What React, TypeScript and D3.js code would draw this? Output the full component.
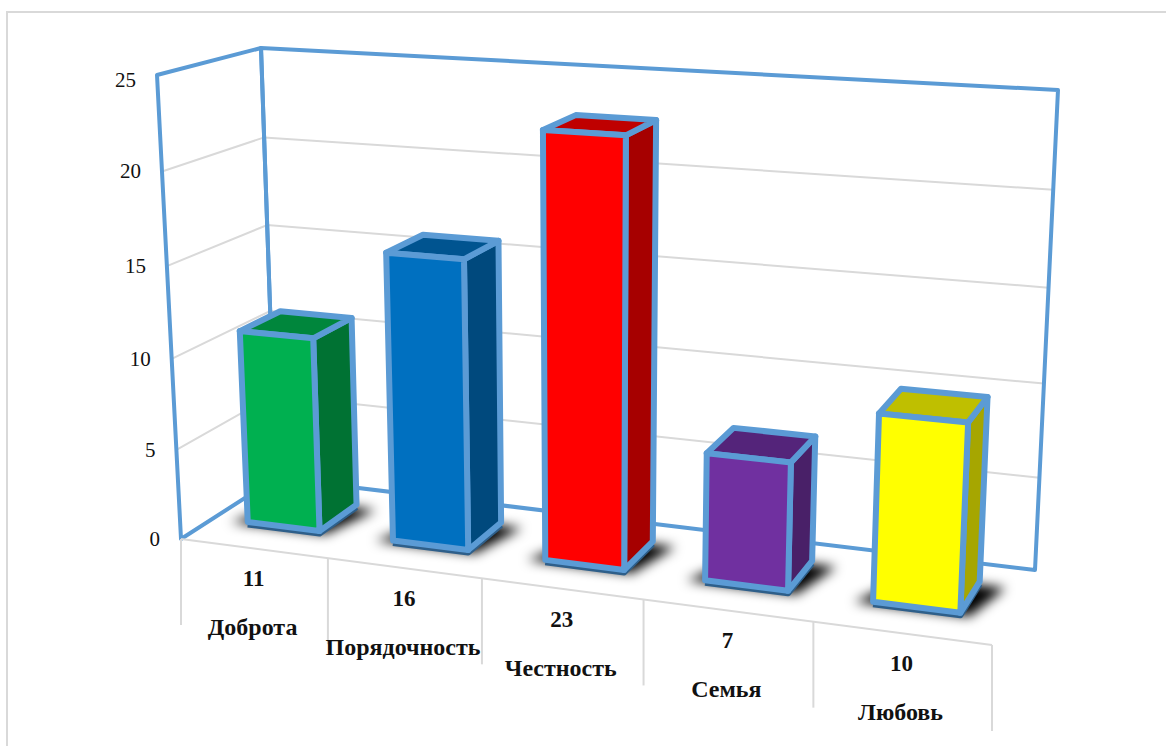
import React from 'react';
import * as d3 from 'd3';

const categories = ['Доброта', 'Порядочность', 'Честность', 'Семья', 'Любовь'];
const values = [11, 16, 23, 7, 10];
const faceColors = ['#00B050', '#0070C0', '#FF0000', '#7030A0', '#FFFF00'];
const sideColors = ['#007233', '#00497D', '#A60000', '#492068', '#A6A600'];
const topColors = ['#00863C', '#005490', '#BF0000', '#54247A', '#BFBF00'];
const valueTicks = [0, 5, 10, 15, 20, 25];

type Pt = [number, number];

// corners of the 3d box on screen
const floorFL: Pt = [181, 539];
const floorFR: Pt = [992, 645];
const floorBR: Pt = [1035, 570];
const floorBL: Pt = [276, 478];
const topFL: Pt = [157, 75];
const topFR: Pt = [1015, 129];
const topBR: Pt = [1058, 90];
const topBL: Pt = [261, 48];

const WALL = '#5B9BD5';
const GRID = '#D9D9D9';
const SERIF = '"Liberation Serif", "Times New Roman", serif';

const lerp = (a: Pt, b: Pt, f: number): Pt => [a[0] + (b[0] - a[0]) * f, a[1] + (b[1] - a[1]) * f];

const slot = d3.scaleBand<string>().domain(categories).range([-0.0025, 0.9975]).paddingInner(0.5).paddingOuter(0.25);
const slotEdge = d3.scaleLinear().domain([0, categories.length]).range([0, 1]);
const valueFrac = d3.scaleLinear().domain([0, 25]).range([0, 1]);

// perspective squeeze along x and along the value axis
const warpX = (t: number) => t / (t + (1 - t) * 1.13);
const warpV = (t: number) => t / (t + (1 - t) * 1.05);

// t: across the floor, v: chart value, w: depth (0 front, 1 back)
function project(t: number, v: number, w: number): Pt {
  const u = warpX(t);
  const f = warpV(valueFrac(v));
  const low = lerp(lerp(floorFL, floorFR, u), lerp(floorBL, floorBR, u), w);
  const high = lerp(lerp(topFL, topFR, u), lerp(topBL, topBR, u), w);
  return lerp(low, high, f);
}

const line = d3.line<Pt>();
const poly = (pts: Pt[]) => line(pts) + 'Z';

const BAR_W0 = 0.35;
const BAR_W1 = 0.77;
const TOP_INSET = 0.2; // the bar outline is drawn a bit below the real top

export default function App() {
  return (
    <svg width={1166} height={746} style={{ position: 'absolute', left: 0, top: 0, background: '#fff' }}>
      <defs>
        <filter id="soft" x="-50%" y="-100%" width="200%" height="300%">
          <feGaussianBlur stdDeviation="6" />
        </filter>
      </defs>

      {/* outer frame */}
      <path d="M7,746V12H1166" fill="none" stroke={GRID} strokeWidth={2} />

      {/* gridlines on the walls */}
      {valueTicks.slice(1, -1).map(v => (
        <path
          key={v}
          d={line([project(0, v, 0), project(0, v, 1), project(1, v, 1)]) as string}
          fill="none"
          stroke={GRID}
          strokeWidth={2}
        />
      ))}

      {/* walls */}
      <path d={poly([floorFL, topFL, topBL, floorBL])} fill="none" stroke={WALL} strokeWidth={4} strokeLinejoin="round" />
      <path d={poly([floorBL, topBL, topBR, floorBR])} fill="none" stroke={WALL} strokeWidth={4} strokeLinejoin="round" />

      {/* category axis */}
      <path d={line([floorFL, floorFR]) as string} stroke={GRID} strokeWidth={2} fill="none" />
      {d3.range(categories.length + 1).map(i => {
        const p = project(slotEdge(i), 0, 0);
        return <line key={i} x1={p[0]} y1={p[1]} x2={p[0]} y2={p[1] + 86} stroke={GRID} strokeWidth={2} />;
      })}

      {/* value axis labels */}
      {valueTicks.map(v => {
        const p = project(0, v, 0);
        return (
          <text
            key={v}
            x={p[0] - 21}
            y={p[1] + (v === 25 ? 12 : 7)}
            textAnchor="end"
            fontFamily={SERIF}
            fontSize={21}
            fill="#111"
          >
            {v}
          </text>
        );
      })}

      {/* bars */}
      {categories.map((c, i) => {
        const t0 = slot(c) as number;
        const t1 = t0 + slot.bandwidth();
        const v = values[i] - TOP_INSET;
        const fbl = project(t0, 0, BAR_W0);
        const fbr = project(t1, 0, BAR_W0);
        const bbr = project(t1, 0, BAR_W1);
        const ftl = project(t0, v, BAR_W0);
        const ftr = project(t1, v, BAR_W0);
        const btr = project(t1, v, BAR_W1);
        const btl = project(t0, v, BAR_W1);
        const shadow = [
          project(t0 - 0.02, 0, BAR_W0 - 0.03),
          project(t1 + 0.012, 0, BAR_W0 - 0.03),
          project(t1 + 0.032, 0, BAR_W1 - 0.04),
          project(t0 + 0.02, 0, BAR_W1 - 0.04),
        ];
        return (
          <g key={c}>
            <path d={poly(shadow)} fill="#000" filter="url(#soft)" />
            <path
              d={line([fbl, fbr, bbr]) as string}
              transform="translate(0,2.5)"
              fill="none"
              stroke="#2E5F8A"
              strokeWidth={6}
              strokeLinejoin="round"
            />
            <path d={poly([fbr, bbr, btr, ftr])} fill={sideColors[i]} stroke={WALL} strokeWidth={6} strokeLinejoin="round" />
            <path d={poly([ftl, ftr, btr, btl])} fill={topColors[i]} stroke={WALL} strokeWidth={6} strokeLinejoin="round" />
            <path d={poly([fbl, fbr, ftr, ftl])} fill={faceColors[i]} stroke={WALL} strokeWidth={6} strokeLinejoin="round" />
          </g>
        );
      })}

      {/* data and category labels under the axis */}
      {categories.map((c, i) => {
        const p = project((slotEdge(i) + slotEdge(i + 1)) / 2, 0, 0);
        return (
          <g key={c} textAnchor="middle" fontFamily={SERIF} fontWeight="bold" fill="#111">
            <text x={p[0]} y={p[1] + 38} fontSize={23}>{values[i]}</text>
            <text x={p[0] - 1} y={p[1] + 87} fontSize={24}>{c}</text>
          </g>
        );
      })}
    </svg>
  );
}
